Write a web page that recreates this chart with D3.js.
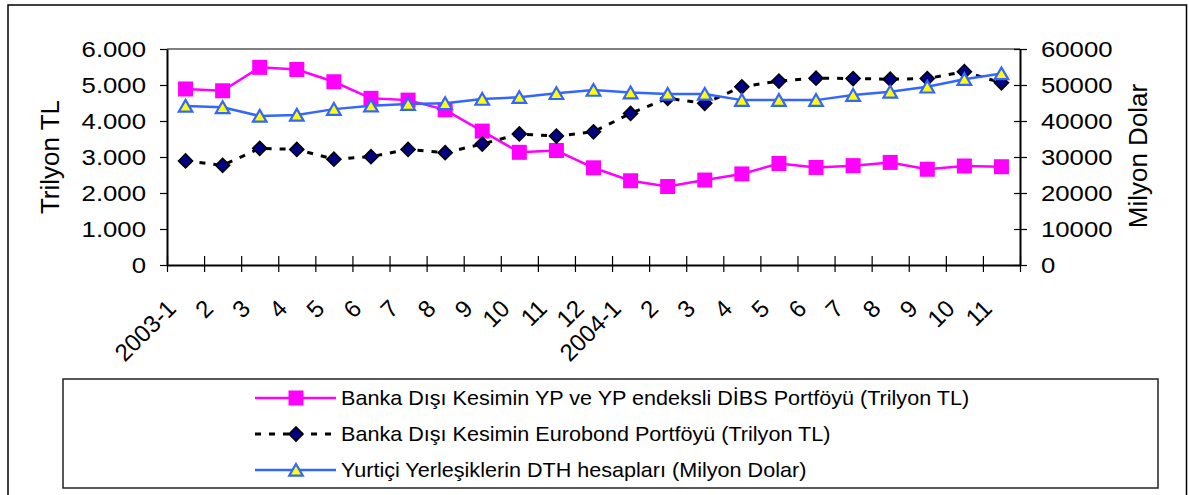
<!DOCTYPE html>
<html>
<head>
<meta charset="utf-8">
<script src="https://cdn.jsdelivr.net/npm/d3@7"></script>
<style>
  html, body { margin: 0; padding: 0; background: #fff; }
  svg { display: block; font-family: "Liberation Sans", Arial, sans-serif; }
</style>
</head>
<body>
<div id="chart"></div>
<script>
// ── Data ──────────────────────────────────────────────────────────────────────
const categories = ["2003-1", "2", "3", "4", "5", "6", "7", "8", "9", "10", "11", "12",
  "2004-1", "2", "3", "4", "5", "6", "7", "8", "9", "10", "11"];

// Banka Dışı Kesimin YP ve YP endeksli DİBS Portföyü (Trilyon TL) – left axis
const dibsValues = [4890, 4840, 5490, 5430, 5090, 4630, 4580, 4310, 3720, 3130, 3180, 2700,
  2340, 2180, 2360, 2530, 2820, 2710, 2760, 2850, 2660, 2750, 2730];

// Banka Dışı Kesimin Eurobond Portföyü (Trilyon TL) – left axis
const eurobondValues = [2890, 2770, 3240, 3210, 2940, 3010, 3210, 3120, 3360, 3640, 3580, 3700,
  4210, 4630, 4490, 4950, 5110, 5190, 5180, 5160, 5180, 5370, 5060];

// Yurtiçi Yerleşiklerin DTH hesapları (Milyon Dolar) – right axis
const dthValues = [44200, 43800, 41400, 41700, 43300, 44250, 44700, 44900, 46100, 46600, 47700, 48600,
  47900, 47500, 47500, 45800, 45800, 45800, 47200, 48100, 49500, 51600, 53200];

const leftTicks = [0, 1000, 2000, 3000, 4000, 5000, 6000];
const rightTicks = [0, 10000, 20000, 30000, 40000, 50000, 60000];

const legendLabels = [
  "Banka Dışı Kesimin YP ve YP endeksli DİBS Portföyü (Trilyon TL)",
  "Banka Dışı Kesimin Eurobond Portföyü (Trilyon TL)",
  "Yurtiçi Yerleşiklerin DTH hesapları (Milyon Dolar)"
];

// ── Layout ────────────────────────────────────────────────────────────────────
const width = 1189, height = 495;
const plot = { left: 167, right: 1020, top: 49, bottom: 265 };
const stretch = 1.17; // tick labels in the source are drawn wider than Arial

const svg = d3.select("#chart").append("svg")
  .attr("width", width).attr("height", height)
  .attr("viewBox", [0, 0, width, height]);

// Outer frame (bottom edge runs off the picture).
svg.append("rect")
  .attr("x", 8).attr("y", 5).attr("width", 1178.5).attr("height", 500)
  .attr("fill", "#fff").attr("stroke", "#000").attr("stroke-width", 1.5);

const n = categories.length;
const x = d3.scaleLinear().domain([0, n]).range([plot.left, plot.right]);
const cx = (i) => x(i + 0.5);
const yL = d3.scaleLinear().domain([0, 6000]).range([plot.bottom, plot.top]);
const yR = d3.scaleLinear().domain([0, 60000]).range([plot.bottom, plot.top]);

const dotFmt = d3.formatLocale({ decimal: ",", thousands: ".", grouping: [3], currency: ["", ""] }).format(",");

// Top border of the plot area.
svg.append("line")
  .attr("x1", plot.left).attr("x2", plot.right)
  .attr("y1", plot.top).attr("y2", plot.top)
  .attr("stroke", "#808080").attr("stroke-width", 2);

// Left axis.
const gL = svg.append("g").attr("transform", `translate(${plot.left},0)`)
  .call(d3.axisLeft(yL).tickValues(leftTicks).tickFormat(dotFmt).tickSize(7).tickPadding(14).tickSizeOuter(0));
gL.selectAll("text")
  .attr("x", null)
  .attr("transform", `translate(-21,0) scale(${stretch},1)`)
  .attr("font-size", "22px").attr("fill", "#000").attr("font-family", null);

// Right axis.
const gR = svg.append("g").attr("transform", `translate(${plot.right},0)`)
  .call(d3.axisRight(yR).tickValues(rightTicks).tickFormat(d3.format("d")).tickSize(7).tickPadding(14).tickSizeOuter(0));
gR.selectAll(".tick line").attr("x1", -6);
gR.selectAll("text")
  .attr("x", null)
  .attr("transform", `translate(21,0) scale(${stretch},1)`)
  .attr("font-size", "22px").attr("fill", "#000").attr("font-family", null);

// Bottom axis (ticks between categories).
const gB = svg.append("g").attr("transform", `translate(0,${plot.bottom})`)
  .call(d3.axisBottom(x).tickValues(d3.range(n + 1)).tickFormat("").tickSize(7).tickSizeOuter(0));
gB.selectAll(".tick line").attr("y1", -9);

svg.selectAll(".domain").attr("stroke", "#000").attr("stroke-width", 2);
svg.selectAll(".tick line").attr("stroke", "#000").attr("stroke-width", 1.2);

// Rotated category labels.
svg.append("g").selectAll("text").data(categories).join("text")
  .attr("transform", (d, i) => `translate(${cx(i) - 14},304) rotate(-45)`)
  .attr("text-anchor", "end").attr("dy", "0.35em")
  .attr("font-size", "24px").attr("fill", "#000")
  .text(d => d);

// Axis titles.
svg.append("text")
  .attr("transform", "translate(59,157) rotate(-90)")
  .attr("text-anchor", "middle").attr("font-size", "26px").attr("fill", "#000")
  .text("Trilyon TL");
svg.append("text")
  .attr("transform", "translate(1147,156) rotate(-90)")
  .attr("text-anchor", "middle").attr("font-size", "26px").attr("fill", "#000")
  .text("Milyon Dolar");

// ── Series ────────────────────────────────────────────────────────────────────
const squarePath = d3.symbol().type(d3.symbolSquare).size(15 * 15)();
const diamondPath = d3.symbol().type(d3.symbolSquare).size(10 * 10)();
const trianglePath = d3.symbol().type(d3.symbolTriangle).size(80)();

const styles = [
  { values: dibsValues, y: yL, color: "#FF00FF", dash: null, width: 2.5 },
  { values: eurobondValues, y: yL, color: "#000000", dash: "6,8", width: 3 },
  { values: dthValues, y: yR, color: "#3366FF", dash: null, width: 2.5 }
];

function drawMarker(g, k, px, py) {
  if (k === 0) {
    g.append("path").attr("d", squarePath)
      .attr("transform", `translate(${px},${py})`)
      .attr("fill", "#FF00FF");
  } else if (k === 1) {
    g.append("path").attr("d", diamondPath)
      .attr("transform", `translate(${px},${py}) rotate(45)`)
      .attr("fill", "#000080").attr("stroke", "#000").attr("stroke-width", 1.5);
  } else {
    g.append("path").attr("d", trianglePath)
      .attr("transform", `translate(${px},${py + 1.8})`)
      .attr("fill", "#FFFF00").attr("stroke", "#3366FF").attr("stroke-width", 2.2);
  }
}

// Lines first, then markers, in series order (DTH drawn last, on top).
for (const k of [0, 1, 2]) {
  const s = styles[k];
  const line = d3.line().x((d, i) => cx(i)).y(d => s.y(d));
  const g = svg.append("g");
  g.append("path").datum(s.values)
    .attr("d", line).attr("fill", "none")
    .attr("stroke", s.color).attr("stroke-width", s.width)
    .attr("stroke-dasharray", s.dash);
  s.values.forEach((v, i) => drawMarker(g, k, cx(i), s.y(v)));
}

// ── Legend ────────────────────────────────────────────────────────────────────
const legend = svg.append("g");
legend.append("rect")
  .attr("x", 63).attr("y", 379).attr("width", 1095).attr("height", 109)
  .attr("fill", "#fff").attr("stroke", "#222").attr("stroke-width", 1.5);

const rowY = [398, 434, 470];
legendLabels.forEach((label, k) => {
  const s = styles[k];
  const y = rowY[k];
  legend.append("line")
    .attr("x1", 255).attr("x2", 336).attr("y1", y).attr("y2", y)
    .attr("stroke", s.color).attr("stroke-width", s.width)
    .attr("stroke-dasharray", s.dash);
  drawMarker(legend, k, 296, y);
  legend.append("text")
    .attr("transform", `translate(341,${y}) scale(1.08,1)`)
    .attr("dy", "0.35em").attr("font-size", "20px").attr("fill", "#000")
    .text(label);
});
</script>
</body>
</html>
